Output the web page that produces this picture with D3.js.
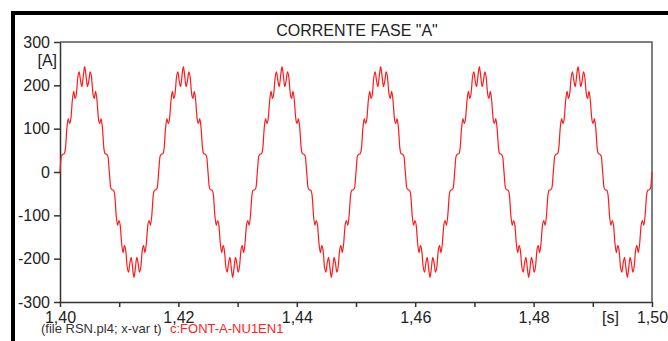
<!DOCTYPE html>
<html lang="pt">
<head>
<meta charset="utf-8">
<title>CORRENTE FASE "A"</title>
<script src="https://d3js.org/d3.v7.min.js"></script>
<style>
body {
  margin: 0;
  background-color: #fff;
  font-family: "Liberation Sans", Arial, sans-serif;
}
svg { display: block; }
.axis text { fill: #222; font-size: 16px; font-family: "Liberation Sans", Arial, sans-serif; }
.axis path, .axis line { stroke: #333; stroke-width: 1.5px; }
</style>
</head>
<body>
<script>

// time grid of the pl4 file: 72 samples per 60 Hz cycle, starting at 1.40 s
var t0 = 1.40;
var dt = 1 / 60 / 72;

// current [A], one row per half cycle
var current = [
  0, 36, 41, 42, 55, 100, 123, 112, 125, 165, 186, 170, 182, 218, 231, 210, 197, 222, 243, 222, 197, 210, 231, 218, 182, 170, 186, 165, 125, 112, 123, 100, 55, 42, 41, 36,
  0, -36, -41, -42, -55, -100, -123, -112, -125, -165, -186, -170, -182, -218, -231, -210, -197, -222, -243, -222, -197, -210, -231, -218, -182, -170, -186, -165, -125, -112, -123, -100, -55, -42, -41, -36,
  0, 36, 41, 42, 55, 100, 123, 112, 125, 165, 186, 170, 182, 218, 231, 210, 197, 222, 243, 222, 197, 210, 231, 218, 182, 170, 186, 165, 125, 112, 123, 100, 55, 42, 41, 36,
  0, -36, -41, -42, -55, -100, -123, -112, -125, -165, -186, -170, -182, -218, -231, -210, -197, -222, -243, -222, -197, -210, -231, -218, -182, -170, -186, -165, -125, -112, -123, -100, -55, -42, -41, -36,
  0, 36, 41, 42, 55, 100, 123, 112, 125, 165, 186, 170, 182, 218, 231, 210, 197, 222, 243, 222, 197, 210, 231, 218, 182, 170, 186, 165, 125, 112, 123, 100, 55, 42, 41, 36,
  0, -36, -41, -42, -55, -100, -123, -112, -125, -165, -186, -170, -182, -218, -231, -210, -197, -222, -243, -222, -197, -210, -231, -218, -182, -170, -186, -165, -125, -112, -123, -100, -55, -42, -41, -36,
  0, 36, 41, 42, 55, 100, 123, 112, 125, 165, 186, 170, 182, 218, 231, 210, 197, 222, 243, 222, 197, 210, 231, 218, 182, 170, 186, 165, 125, 112, 123, 100, 55, 42, 41, 36,
  0, -36, -41, -42, -55, -100, -123, -112, -125, -165, -186, -170, -182, -218, -231, -210, -197, -222, -243, -222, -197, -210, -231, -218, -182, -170, -186, -165, -125, -112, -123, -100, -55, -42, -41, -36,
  0, 36, 41, 42, 55, 100, 123, 112, 125, 165, 186, 170, 182, 218, 231, 210, 197, 222, 243, 222, 197, 210, 231, 218, 182, 170, 186, 165, 125, 112, 123, 100, 55, 42, 41, 36,
  0, -36, -41, -42, -55, -100, -123, -112, -125, -165, -186, -170, -182, -218, -231, -210, -197, -222, -243, -222, -197, -210, -231, -218, -182, -170, -186, -165, -125, -112, -123, -100, -55, -42, -41, -36,
  0, 36, 41, 42, 55, 100, 123, 112, 125, 165, 186, 170, 182, 218, 231, 210, 197, 222, 243, 222, 197, 210, 231, 218, 182, 170, 186, 165, 125, 112, 123, 100, 55, 42, 41, 36,
  0, -36, -41, -42, -55, -100, -123, -112, -125, -165, -186, -170, -182, -218, -231, -210, -197, -222, -243, -222, -197, -210, -231, -218, -182, -170, -186, -165, -125, -112, -123, -100, -55, -42, -41, -36,
  0
];

var yTicks = [-300, -200, -100, 0, 100, 200, 300];
var xTicks = [1.40, 1.41, 1.42, 1.43, 1.44, 1.45, 1.46, 1.47, 1.48, 1.49, 1.50];
var xLabeled = [1.40, 1.42, 1.44, 1.46, 1.48, 1.50];

var title = 'CORRENTE FASE "A"';
var yUnit = "[A]";
var xUnit = "[s]";
var fileNote = "(file RSN.pl4; x-var t)";
var varName = "c:FONT-A-NU1EN1";

var width = 668;
var height = 341;
// plot box (don't use "top" as a name, it's window.top)
var boxL = 60, boxR = 652, boxT = 42, boxB = 302;

var svg = d3.select("body").append("svg").attr("width", width).attr("height", height);

svg.append("rect").attr("width", width).attr("height", height).attr("fill", "#fff");

// outer black frame (runs off the right and bottom of the picture)
svg.append("rect")
  .attr("x", 13).attr("y", 13)
  .attr("width", 720).attr("height", 400)
  .attr("fill", "none").attr("stroke", "#000").attr("stroke-width", 4);

var x = d3.scaleLinear().domain([1.40, 1.50]).range([boxL, boxR]);
var y = d3.scaleLinear().domain([-300, 300]).range([boxB, boxT]);

var comma = d3.formatLocale({decimal: ",", thousands: ".", grouping: [3], currency: ["", ""]}).format(".2f");

// plot box top + right
svg.append("path")
  .attr("d", "M" + boxL + "," + boxT + "H" + boxR + "V" + boxB)
  .attr("fill", "none").attr("stroke", "#555").attr("stroke-width", 1.5);

svg.append("g")
  .attr("class", "axis")
  .attr("transform", "translate(" + boxL + ",0)")
  .call(d3.axisLeft(y).tickValues(yTicks).tickSize(6).tickSizeOuter(0).tickPadding(4)
    .tickFormat(function(d) { return String(d); }));

svg.append("g")
  .attr("class", "axis")
  .attr("transform", "translate(0," + boxB + ")")
  .call(d3.axisBottom(x).tickValues(xTicks).tickSize(5).tickSizeOuter(0).tickPadding(4.6)
    .tickFormat(function(d) {
      return xLabeled.some(function(v) { return Math.abs(v - d) < 1e-9; }) ? comma(d) : "";
    }));

svg.selectAll(".axis text").attr("fill", "#222");

var line = d3.line()
  .x(function(d, i) { return x(t0 + i * dt); })
  .y(function(d) { return y(d); })
  .curve(d3.curveMonotoneX);

svg.append("path")
  .datum(current)
  .attr("d", line)
  .attr("fill", "none")
  .attr("stroke", "#ff1a1a")
  .attr("stroke-width", 1.2);

svg.append("text")
  .attr("x", 357).attr("y", 36)
  .attr("text-anchor", "middle")
  .attr("font-size", 16)
  .attr("fill", "#222")
  .text(title);

svg.append("text")
  .attr("x", 57).attr("y", 66)
  .attr("text-anchor", "end")
  .attr("font-size", 16)
  .attr("fill", "#222")
  .text(yUnit);

svg.append("text")
  .attr("x", 610.5).attr("y", 323)
  .attr("text-anchor", "middle")
  .attr("font-size", 16)
  .attr("fill", "#222")
  .text(xUnit);

var note = svg.append("text")
  .attr("x", 41).attr("y", 333)
  .attr("font-size", 13);
note.append("tspan").attr("fill", "#333").text(fileNote);
note.append("tspan").attr("x", 170).attr("fill", "#f22").text(varName);

</script>
</body>
</html>
